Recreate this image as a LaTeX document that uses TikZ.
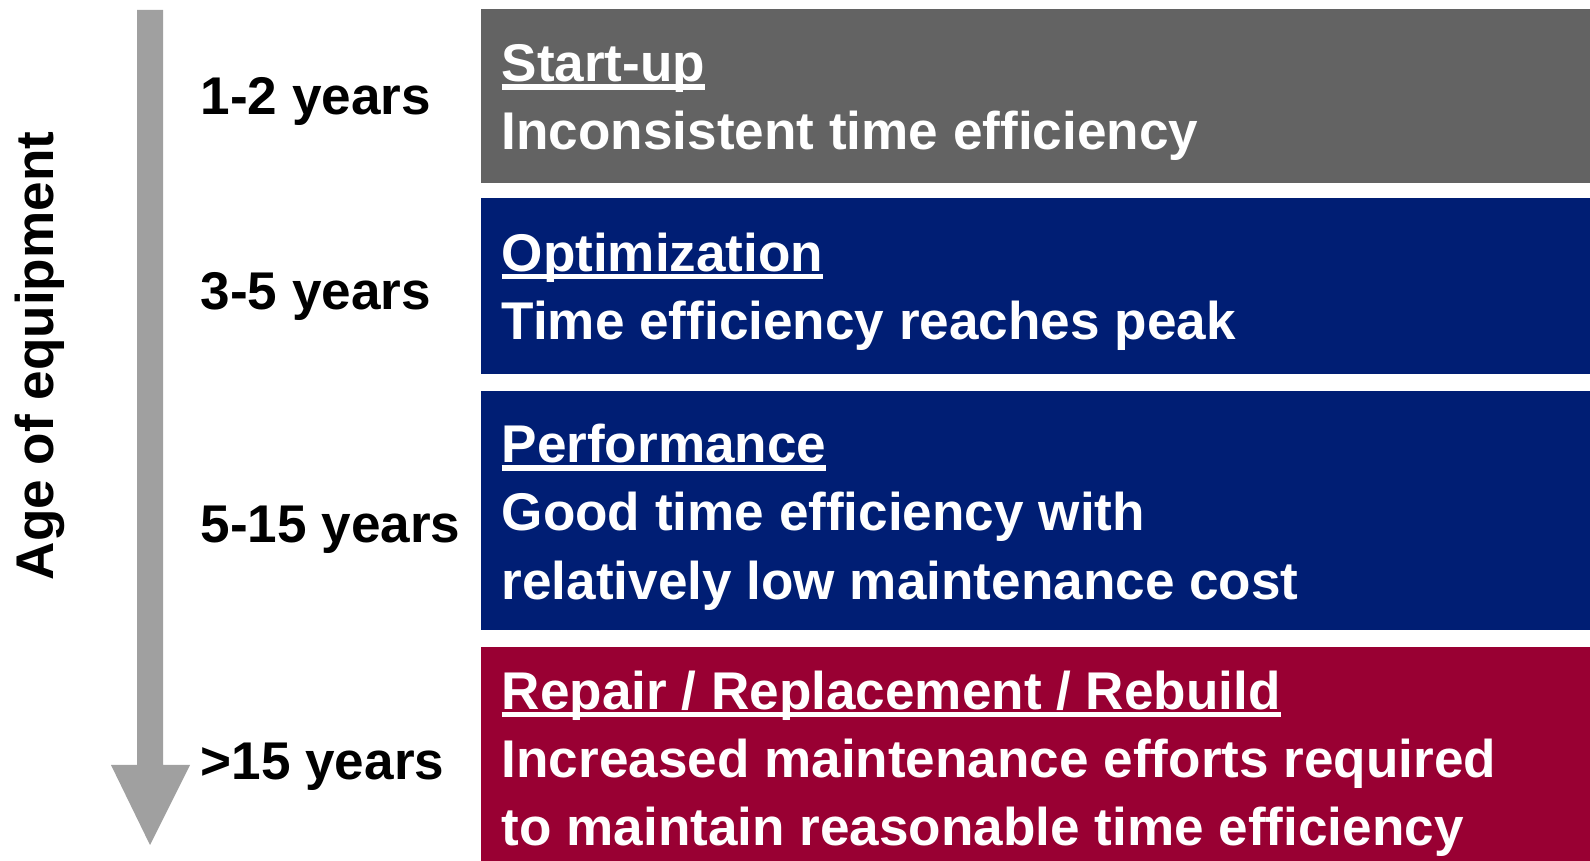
\documentclass[tikz,border=0pt]{standalone}
\usepackage{fontspec}
\setmainfont{Liberation Sans}
\usetikzlibrary{positioning}
\definecolor{stagegray}{RGB}{99,99,99}
\definecolor{stageblue}{RGB}{0,30,116}
\definecolor{stagered}{RGB}{153,0,51}
\definecolor{arrowgray}{RGB}{160,160,160}
\newcommand{\bigtext}{\fontsize{15.1}{19.45}\selectfont\bfseries}
\newcommand{\stagetitle}[1]{\setbox0\hbox{#1}\rlap{\rule[-2.3pt]{\wd0}{1.5pt}}\box0}
\tikzset{
  stagebox/.style={rectangle, anchor=north west, minimum width=1110*0.01cm, inner sep=0pt},
  stagetext/.style={anchor=west, inner sep=0pt, align=left, text=white, font=\bigtext},
  yearlbl/.style={anchor=west, inner sep=0pt, font=\bigtext}
}

\begin{document}
\begin{tikzpicture}[x=0.01cm, y=-0.01cm]
	\useasboundingbox (0,0) rectangle (1590,861);
	\clip (0,0) rectangle (1590,861);
	% age arrow
	\fill[arrowgray] (137,10) -- (163,10) -- (163,765) -- (190,765) -- (150,845)
		-- (111,765) -- (137,765) -- cycle;
	\node[rotate=90, font=\bigtext] (age) at (40,356) {Age of equipment};
	% stages
	\node[stagebox, fill=stagegray, minimum height=174*0.01cm] (startbox) at (480,8) {};
	\node[stagebox, fill=stageblue, minimum height=176*0.01cm] (optimbox) at (480,197) {};
	\node[stagebox, fill=stageblue, minimum height=239*0.01cm] (perfbox) at (480,390) {};
	\node[stagebox, fill=stagered, minimum height=230*0.01cm] (repairbox) at (480,646) {};
	\node[stagetext] (startup) at ([shift={(21,7)}]startbox.west)
		{\stagetitle{Start-up}\\Inconsistent time efficiency};
	\node[stagetext] (optim) at ([shift={(21,6)}]optimbox.west)
		{\stagetitle{Optimization}\\Time efficiency reaches peak};
	\node[stagetext] (perf) at ([shift={(21,7)}]perfbox.west)
		{\stagetitle{Performance}\\Good time efficiency with\\relatively low maintenance cost};
	\node[stagetext] (repair) at ([shift={(21,2)}]repairbox.west)
		{\stagetitle{Repair / Replacement / Rebuild}\\Increased maintenance efforts required\\to maintain reasonable time efficiency};
	% years
	\node[yearlbl] (y1) at (200,101) {1-2 years};%1
	\node[yearlbl] (y2) at (200,296) {3-5 years};%2
	\node[yearlbl] (y3) at (200,530) {5-15 years};%3
	\node[yearlbl] (y4) at (200,767) {>15 years};%4
\end{tikzpicture}
\end{document}
